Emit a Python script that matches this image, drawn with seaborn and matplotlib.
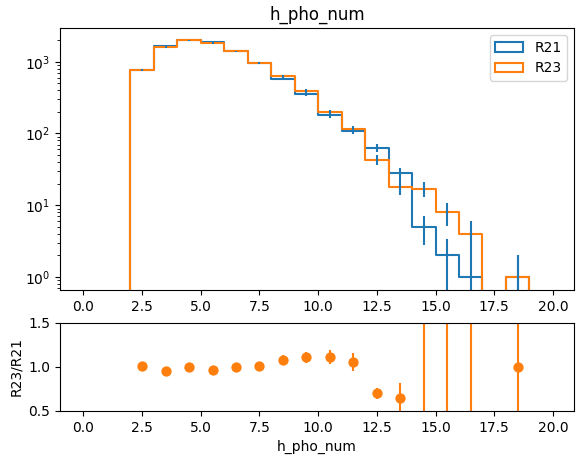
import numpy as np
import pandas as pd
import matplotlib
matplotlib.use("Agg")
import matplotlib.pyplot as plt
from matplotlib.patches import Patch
import seaborn as sns

# ---- data ----
bin_edges = list(range(0, 21))
bin_centers = [2.5, 3.5, 4.5, 5.5, 6.5, 7.5, 8.5, 9.5, 10.5, 11.5,
               12.5, 13.5, 14.5, 15.5, 16.5, 17.5, 18.5]
counts_r21 = [760, 1680, 1980, 1900, 1390, 950, 580, 355, 180, 108,
              63, 28, 5, 2, 1, 0, 1]
counts_r23 = [760, 1600, 1980, 1830, 1390, 960, 630, 395, 198, 115,
              43, 18, 17, 8, 4, 0, 1]
err_r21 = [27.6, 41.0, 44.5, 43.6, 37.3, 30.8, 24.1, 18.8, 13.4, 10.4,
           7.9, 5.3, 2.2, 1.4, 1.0, 0.0, 1.0]
err_r23 = [27.6, 40.0, 44.5, 42.8, 37.3, 31.0, 25.1, 19.9, 14.1, 10.7,
           6.6, 4.2, 4.1, 2.8, 2.0, 0.0, 1.0]

ratio_x = [2.5, 3.5, 4.5, 5.5, 6.5, 7.5, 8.5, 9.5, 10.5, 11.5,
           12.5, 13.5, 14.5, 15.5, 16.5, 18.5]
ratio_y = [1.01, 0.955, 1.0, 0.965, 1.0, 1.01, 1.085, 1.11, 1.11, 1.06,
           0.70, 0.65, 3.4, 4.0, 4.0, 1.0]
ratio_err = [0.04, 0.03, 0.03, 0.03, 0.04, 0.04, 0.05, 0.06, 0.08, 0.10,
             0.06, 0.17, 3.4, 4.0, 4.0, 1.41]

labels = ["R21", "R23"]
title = "h_pho_num"

# ---- figure ----
fig = plt.figure(figsize=(5.76, 4.62), dpi=100)
ax1 = fig.add_axes([60/576, 1-290/462, 514/576, 262/462])
ax2 = fig.add_axes([60/576, 1-411/462, 514/576, 88/462])

df21 = pd.DataFrame({"x": bin_centers, "w": counts_r21})
df23 = pd.DataFrame({"x": bin_centers, "w": counts_r23})
sns.histplot(data=df21, x="x", weights="w", bins=bin_edges, element="step",
             fill=False, color="C0", linewidth=1.5, ax=ax1)
sns.histplot(data=df23, x="x", weights="w", bins=bin_edges, element="step",
             fill=False, color="C1", linewidth=1.5, ax=ax1)
ax1.errorbar(bin_centers, counts_r21, yerr=err_r21, fmt="none", ecolor="C0", elinewidth=1.5)
ax1.errorbar(bin_centers, counts_r23, yerr=err_r23, fmt="none", ecolor="C0", elinewidth=1.5)
ax1.set_yscale("log")
ax1.set_ylim(0.66, 2950)
ax1.set_xlim(-1, 20.9)
ax1.set_xticks([0, 2.5, 5, 7.5, 10, 12.5, 15, 17.5, 20])
ax1.set_xlabel("")
ax1.set_ylabel("")
ax1.set_title(title)
handles = [Patch(facecolor="none", edgecolor="C0", linewidth=1.5),
           Patch(facecolor="none", edgecolor="C1", linewidth=1.5)]
ax1.legend(handles, labels, loc="upper right")

ax2.errorbar(ratio_x, ratio_y, yerr=ratio_err, fmt="none", ecolor="C1", elinewidth=1.5)
sns.scatterplot(x=ratio_x, y=ratio_y, color="C1", s=55, edgecolor="C1", linewidth=0, ax=ax2, zorder=3)
ax2.set_ylim(0.5, 1.5)
ax2.set_xlim(-1, 20.9)
ax2.set_xticks([0, 2.5, 5, 7.5, 10, 12.5, 15, 17.5, 20])
ax2.set_yticks([0.5, 1.0, 1.5])
ax2.set_xlabel(title)
ax2.set_ylabel("R23/R21")

fig.savefig("out.png", dpi=100)
